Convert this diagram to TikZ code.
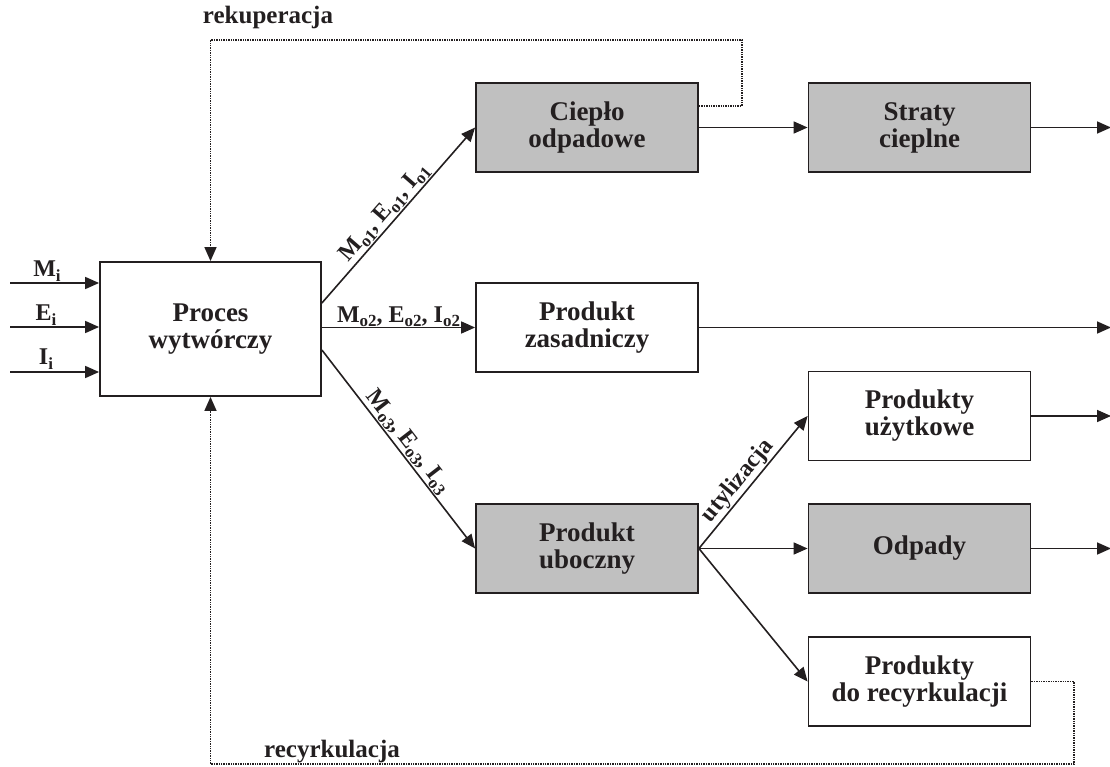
\documentclass[tikz,border=0pt]{standalone}
\usepackage{fontspec}
\setmainfont{Liberation Serif}
\usetikzlibrary{arrows.meta,calc}
\newcommand\sbs[1]{\raisebox{-0.4ex}{\fontsize{17}{17}\selectfont #1}}
\definecolor{boxgray}{RGB}{192,192,192}
\definecolor{ink}{RGB}{35,31,32}
\begin{document}
\begin{tikzpicture}[x=1pt,y=-1pt,
  box/.style={draw=ink, line width=1.8pt, minimum width=222pt, minimum height=89pt, align=center,
    font=\fontsize{27}{27}\selectfont\bfseries, text=ink, inner sep=0pt},
  gbox/.style={box, fill=boxgray},
  wbox/.style={box, fill=white},
  arr/.style={draw=ink, line width=1.6pt, -{Triangle[length=14pt,width=12pt]}},
  fb/.style={draw=ink, line width=1.4pt, densely dotted, -{Triangle[length=14pt,width=12pt]}},
  lab/.style={font=\fontsize{24}{24}\selectfont\bfseries, text=ink, inner sep=1pt},
  flab/.style={font=\fontsize{25}{25}\selectfont\bfseries, text=ink, inner sep=0pt}]
\useasboundingbox (0,0) rectangle (1110,767);

% boxes
\node[wbox, minimum width=221pt, minimum height=134pt] (proc) at (210.5,329) {Proces\\wytwórczy};
\node[gbox] (ciep)   at (587,127.5)   {Ciepło\\odpadowe};
\node[gbox] (straty) at (919.5,127.5) {Straty\\cieplne};
\node[wbox] (zas)    at (587,327.5)   {Produkt\\zasadniczy};
\node[wbox] (uzyt)   at (919.5,416)   {Produkty\\użytkowe};
\node[gbox] (ubocz)  at (587,548.5)   {Produkt\\uboczny};
\node[gbox] (odp)    at (919.5,548.5) {Odpady};
\node[wbox] (recyk)  at (919.5,681.5) {Produkty\\do recyrkulacji};

% inputs
\coordinate (im) at (10,283);
\coordinate (ie) at (10,327);
\coordinate (ii) at (10,372);
\draw[arr] (im) -- (im -| proc.west);
\draw[arr] (ie) -- (ie -| proc.west);
\draw[arr] (ii) -- (ii -| proc.west);
\node[lab] (lmi) at (47,271) {M\sbs{i}};
\node[lab] (lei) at (46,315) {E\sbs{i}};
\node[lab] (lii) at (46,359) {I\sbs{i}};

% outputs of the process
\draw[arr] ([yshift=26pt]proc.east) -- node[lab, above, sloped, pos=0.47] (lo1) {M\sbs{o1}, E\sbs{o1}, I\sbs{o1}} (ciep.west);
\draw[arr] (proc.east |- zas.west) -- node[lab, anchor=base, yshift=5pt] (lo2) {M\sbs{o2}, E\sbs{o2}, I\sbs{o2}} (zas.west);
\draw[arr] ([yshift=-21pt]proc.east) -- node[lab, above, sloped, pos=0.5] (lo3) {M\sbs{o3}, E\sbs{o3}, I\sbs{o3}} (ubocz.west);

% further flows
\draw[arr] (ciep.east) -- (straty.west);
\coordinate (e1) at (1111,0);
\draw[arr] (straty.east) -- (straty.east -| e1);
\draw[arr] (zas.east) -- (zas.east -| e1);
\draw[arr] (uzyt.east) -- (uzyt.east -| e1);
\draw[arr] (odp.east) -- (odp.east -| e1);
\draw[arr] (ubocz.east) -- node[lab, above, sloped, pos=0.45] (lut) {utylizacja} (uzyt.west);
\draw[arr] (ubocz.east) -- (odp.west);
\draw[arr] (ubocz.east) -- (recyk.west);

% feedback loops
\coordinate (rk) at (742,40);
\draw[fb] ([yshift=21.5pt]ciep.east) -| (rk) -| (proc.north);
\node[flab] (lrek) at (268,17) {rekuperacja};
\coordinate (rc) at (1074,764);
\draw[fb] (recyk.east) -| (rc) -| (proc.south);
\node[flab] (lrec) at (332,752) {recyrkulacja};
\end{tikzpicture}
\end{document}
